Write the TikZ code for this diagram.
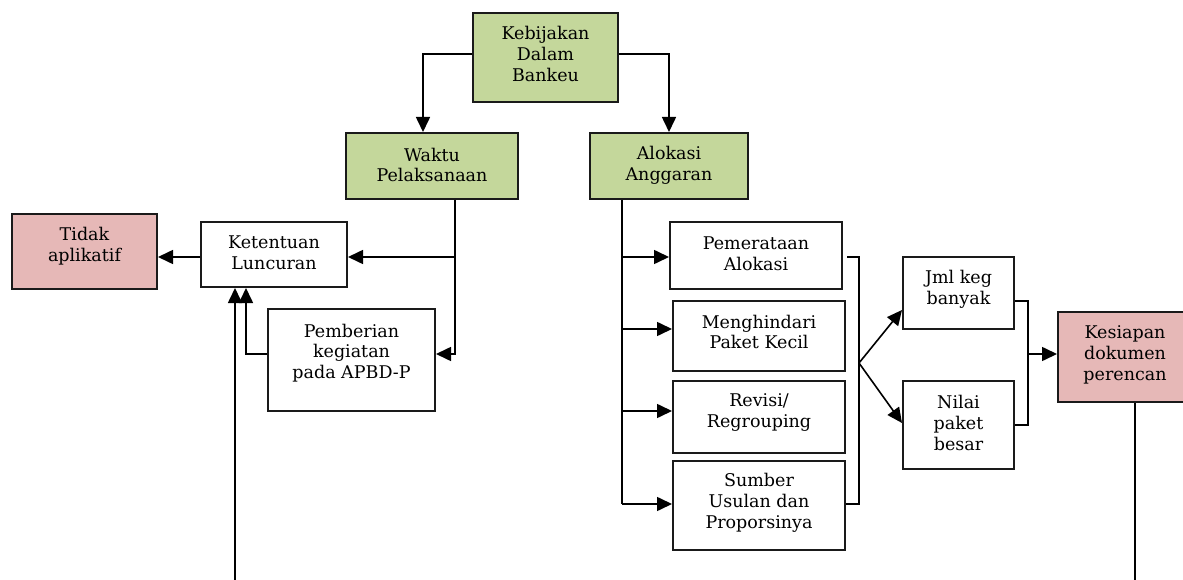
\documentclass[tikz,border=0pt]{standalone}
\usepackage{fontspec}
\setmainfont{DejaVu Serif}
\usetikzlibrary{arrows.meta}
\definecolor{boxgreen}{HTML}{C4D79B}
\definecolor{boxpink}{HTML}{E6B8B7}
\definecolor{boxline}{HTML}{1A1A1A}
\tikzset{
  box/.style={draw=boxline, line width=2pt, fill=white, rectangle, inner sep=0pt},
  green/.style={box, fill=boxgreen},
  pink/.style={box, fill=boxpink},
  txt/.style={align=center, inner sep=0pt, font=\fontsize{17.5}{20.8}\selectfont},
  wire/.style={line width=1.6pt, draw=black},
  arr/.style={wire, -{Triangle[length=15pt,width=14pt]}},
}
\begin{document}
\begin{tikzpicture}[x=1pt,y=-1pt]
\useasboundingbox (0,0) rectangle (1183,580);
\begin{scope}
\clip (0,0) rectangle (1183,580);

% top level
\node[green, minimum width=145, minimum height=89] (keb) at (545.5,57.5) {};
\node[txt] (kebT) at (545.5,54) {Kebijakan\\Dalam\\Bankeu};

\node[green, minimum width=172, minimum height=66] (waktu) at (432,166) {};
\node[txt] (waktuT) at (432,165) {Waktu\\Pelaksanaan};

\node[green, minimum width=158, minimum height=66] (alok) at (669,166) {};
\node[txt] (alokT) at (669,165) {Alokasi\\Anggaran};

% left branch
\node[pink, minimum width=145, minimum height=75] (tidak) at (84.5,251.5) {};
\node[txt] (tidakT) at (84.5,246) {Tidak\\aplikatif};

\node[box, minimum width=146, minimum height=65] (ket) at (274,254.5) {};
\node[txt] (ketT) at (274,253) {Ketentuan\\Luncuran};

\node[box, minimum width=167, minimum height=102] (pemb) at (351.5,360) {};
\node[txt] (pembT) at (351.5,353) {Pemberian\\kegiatan\\pada APBD-P};

% right branch
\node[box, minimum width=172, minimum height=67] (pemer) at (756,255.5) {};
\node[txt] (pemerT) at (756,253.5) {Pemerataan\\Alokasi};

\node[box, minimum width=172, minimum height=70] (mengh) at (759,336) {};
\node[txt] (menghT) at (759,332) {Menghindari\\Paket Kecil};

\node[box, minimum width=172, minimum height=72] (revisi) at (759,417) {};
\node[txt] (revisiT) at (759,412.5) {Revisi/\\Regrouping};

\node[box, minimum width=172, minimum height=89] (sumber) at (759,505.5) {};
\node[txt] (sumberT) at (759,503) {Sumber\\Usulan dan\\Proporsinya};

\node[box, minimum width=111, minimum height=72] (jml) at (958.5,293) {};
\node[txt] (jmlT) at (958.5,289) {Jml keg\\banyak};

\node[box, minimum width=111, minimum height=88] (nilai) at (958.5,425) {};
\node[txt] (nilaiT) at (958.5,423) {Nilai\\paket\\besar};

\node[pink, minimum width=134, minimum height=90] (kesi) at (1125,357) {};
\node[txt] (kesiT) at (1125,355) {Kesiapan\\dokumen\\perencan};

% junction points
\coordinate (wj) at (455,354);
\coordinate (bot) at (235,580);
\coordinate (ax) at (622,504);
\coordinate (a1) at (622,257);
\coordinate (a2) at (622,329);
\coordinate (a3) at (622,411);
\coordinate (br) at (859,363);
\coordinate (br2) at (1028,354);
\coordinate (bot2) at (1135,580);

% top level connectors
\draw[arr] ([yshift=3.5pt]keb.west) -| ([xshift=-9pt]waktu.north);
\draw[arr] ([yshift=3.5pt]keb.east) -| (alok.north);

% waktu pelaksanaan branch
\draw[arr] (waktu.south -| wj) |- ([yshift=-2.5pt]ket.east);
\draw[arr] (waktu.south -| wj) -- (wj) -- (pemb.east |- wj);
\draw[arr] ([yshift=-2.5pt]ket.west) -- ([yshift=-2.5pt]ket.west -| tidak.east);
\draw[arr] (pemb.west |- wj) -| ([xshift=-28pt]ket.south);
\draw[arr] (bot) -- (bot |- ket.south);

% alokasi anggaran branch
\draw[wire] (alok.south -| ax) -- (ax);
\draw[arr] (a1) -- (a1 -| pemer.west);
\draw[arr] (a2) -- (a2 -| mengh.west);
\draw[arr] (a3) -- (a3 -| revisi.west);
\draw[arr] (ax) -- (ax -| sumber.west);

\draw[wire] ([xshift=4pt]pemer.east |- a1) -| (br) |- (ax -| sumber.east);
\draw[arr] (br) -- ([yshift=-17pt]jml.west);
\draw[arr] (br) -- ([yshift=2pt]nilai.west);

\draw[wire] ([yshift=-8pt]jml.east) -| (br2) |- (nilai.east);
\draw[arr] (br2) -- (br2 -| kesi.west);
\draw[wire] (bot2 |- kesi.south) -- (bot2);
\end{scope}
\end{tikzpicture}
\end{document}
